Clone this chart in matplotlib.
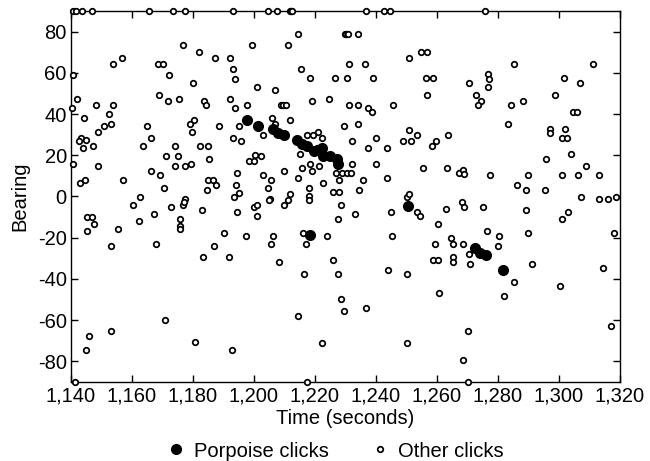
import matplotlib
matplotlib.use("Agg")
import matplotlib.pyplot as plt
import numpy as np
from matplotlib.ticker import FuncFormatter

plt.rcParams['font.family'] = ['Liberation Sans', 'DejaVu Sans']
plt.rcParams['axes.unicode_minus'] = False

# Porpoise clicks (time s, bearing deg)
porp_t = [1197.6, 1201.4, 1206.1, 1208.0, 1209.8, 1214.0, 1215.6, 1217.3, 1219.8,
          1222.2, 1222.7, 1224.9, 1227.1, 1227.7, 1218.4, 1250.6, 1272.5, 1274.1,
          1276.1, 1281.5]
porp_b = [37.2, 34.3, 32.7, 31.0, 29.8, 27.3, 25.4, 24.5, 22.0,
          23.7, 19.7, 19.7, 18.3, 15.6, -18.7, -4.7, -25.1, -27.2,
          -28.3, -35.6]

# Other clicks
other_pts = [
    # top edge
    (1140.8, 90), (1141.6, 90), (1143.5, 90), (1146.9, 90), (1165.6, 90), (1173.5, 90),
    (1177.4, 90), (1193.0, 90), (1204.7, 90), (1207.4, 90), (1211.9, 90), (1212.2, 90),
    (1212.6, 90), (1236.7, 90), (1242.7, 90), (1244.6, 90), (1275.7, 90),
    # bottom edge
    (1141.3, -90), (1217.3, -90), (1270.1, -90),
    # upper left
    (1199.2, 73.7), (1176.6, 73.7), (1182.1, 70.1), (1156.7, 67.2), (1153.9, 64.4),
    (1187.1, 67.2), (1192.3, 67.2), (1168.6, 64.4), (1170.3, 64.4), (1193.0, 62.0),
    (1140.8, 59.0), (1172.2, 59.0), (1193.8, 57.1), (1180.1, 55.1), (1200.9, 53.2),
    (1168.9, 49.1), (1141.9, 47.2), (1171.9, 46.3), (1175.4, 47.5), (1183.6, 46.3),
    (1184.3, 44.2), (1192.3, 47.5), (1148.1, 44.4), (1153.9, 44.4), (1197.8, 44.4),
    (1140.4, 42.8), (1193.8, 42.8), (1152.5, 39.8), (1144.2, 38.0), (1180.4, 37.2),
    (1179.0, 35.1), (1179.8, 31.1), (1150.9, 34.0), (1153.2, 35.1), (1149.0, 31.1),
    (1164.9, 34.0), (1188.6, 34.0), (1195.1, 34.0), (1166.4, 28.6), (1193.2, 28.6),
    (1195.7, 27.0), (1143.4, 28.6), (1142.6, 26.7), (1144.9, 27.3), (1143.8, 23.7),
    (1147.3, 24.7), (1163.7, 24.7), (1174.0, 24.7), (1182.3, 24.7), (1184.8, 24.7),
    (1171.1, 19.5), (1175.1, 19.5), (1185.2, 18.4), (1200.4, 20.0), (1198.5, 17.1),
    (1200.0, 17.1), (1140.5, 15.9), (1149.0, 14.8), (1174.2, 14.8), (1177.4, 14.8),
    (1179.5, 15.9), (1166.1, 12.4), (1169.2, 10.2), (1194.3, 11.2), (1142.8, 6.7),
    (1144.6, 7.8), (1156.9, 7.8), (1170.4, 4.2), (1184.9, 7.8), (1186.7, 7.8),
    (1187.4, 5.5), (1184.7, 3.1), (1194.1, 5.5), (1195.1, 1.8), (1193.4, -0.2),
    (1162.6, -0.3), (1177.4, -1.1),
    # upper middle
    (1214.5, 78.9), (1211.0, 73.7), (1229.7, 78.7), (1230.2, 78.7), (1230.7, 78.7),
    (1234.0, 78.9), (1250.9, 67.2), (1254.6, 70.1), (1256.6, 70.1), (1231.3, 64.4),
    (1236.4, 64.4), (1215.3, 62.0), (1218.4, 57.4), (1226.6, 57.4), (1230.6, 57.4),
    (1239.1, 57.4), (1256.3, 57.4), (1258.6, 57.4), (1206.9, 51.5), (1256.7, 49.3),
    (1224.7, 47.5), (1219.1, 46.3), (1208.8, 44.2), (1209.6, 44.2), (1210.4, 44.2),
    (1231.3, 44.4), (1234.0, 44.4), (1237.5, 42.9), (1238.8, 41.0), (1245.5, 44.4),
    (1206.0, 38.0), (1211.8, 37.1), (1206.9, 35.1), (1202.8, 29.9), (1229.4, 34.0),
    (1234.0, 35.1), (1250.9, 32.4), (1253.6, 29.9), (1263.7, 29.9), (1217.5, 29.6),
    (1219.5, 29.9), (1221.1, 31.1), (1222.2, 28.6), (1232.0, 27.0), (1239.9, 28.6),
    (1249.0, 27.0), (1251.4, 27.0), (1259.7, 27.0), (1258.3, 24.7), (1237.5, 23.6),
    (1243.5, 23.6), (1220.5, 23.7), (1202.2, 19.5), (1215.1, 20.5), (1218.4, 15.6),
    (1218.9, 12.4), (1215.6, 14.0), (1221.4, 15.0), (1232.0, 15.9), (1239.9, 15.9),
    (1255.5, 13.7), (1263.2, 13.7), (1209.8, 12.4), (1203.1, 10.2), (1205.6, 7.8),
    (1214.5, 8.9), (1226.9, 11.2), (1228.7, 11.2), (1230.4, 11.2), (1231.7, 11.2),
    (1228.0, 7.8), (1222.7, 6.7), (1235.8, 7.8), (1243.7, 8.9), (1204.5, 4.2),
    (1218.1, 4.2), (1226.0, 2.1), (1228.0, 2.1), (1234.3, 3.1), (1211.8, 1.0),
    (1218.1, 0.2), (1205.2, -1.0), (1211.3, -1.5), (1250.1, -0.3), (1250.9, 1.0),
    # upper right
    (1285.2, 64.4), (1311.0, 64.4), (1276.6, 59.5), (1277.0, 57.1), (1276.8, 53.2),
    (1270.4, 55.1), (1301.6, 57.4), (1306.9, 55.1), (1272.7, 49.1), (1274.3, 46.3),
    (1273.5, 44.4), (1284.2, 44.4), (1288.3, 46.3), (1298.6, 49.1), (1304.7, 41.0),
    (1306.0, 41.0), (1283.3, 35.1), (1297.0, 32.5), (1297.0, 30.9), (1302.0, 32.5),
    (1300.9, 28.6), (1302.6, 28.6), (1303.9, 20.7), (1295.8, 18.4), (1308.7, 14.6),
    (1267.2, 11.2), (1268.6, 12.7), (1268.8, 10.7), (1277.4, 10.2), (1289.9, 10.2),
    (1300.9, 10.2), (1306.3, 10.2), (1313.1, 10.2), (1286.1, 5.5), (1289.2, 3.1),
    (1295.5, 3.1), (1307.1, -0.3), (1313.2, -1.1), (1316.2, -1.1), (1318.6, -0.2),
    # lower left
    (1160.2, -3.9), (1162.2, -12.1), (1167.3, -8.5), (1172.7, -5.1), (1175.7, -10.8),
    (1175.7, -14.5), (1175.7, -15.6), (1176.8, -4.2), (1177.0, -2.8), (1182.8, -6.4),
    (1194.5, -7.5), (1190.3, -17.9), (1197.4, -19.0), (1186.9, -24.2), (1183.2, -29.5),
    (1191.9, -29.5), (1168.0, -22.9), (1155.5, -15.6), (1153.2, -24.2), (1145.4, -9.8),
    (1147.0, -9.8), (1147.7, -13.2), (1145.4, -16.8), (1170.8, -59.7), (1153.2, -65.1),
    (1145.8, -67.8), (1145.0, -74.3), (1180.5, -70.7), (1192.7, -74.3),
    # lower middle
    (1200.0, -5.1), (1200.9, -3.9), (1201.1, -9.6), (1205.0, -1.5), (1209.8, -3.9),
    (1218.1, -1.5), (1228.6, -3.9), (1227.4, -10.9), (1233.2, -8.5), (1244.9, -7.5),
    (1253.6, -7.5), (1254.4, -9.6), (1263.0, -6.0), (1260.2, -13.2), (1216.0, -17.9),
    (1217.1, -23.1), (1206.3, -19.0), (1205.6, -23.1), (1223.8, -19.0), (1245.4, -19.0),
    (1259.5, -23.1), (1208.2, -31.7), (1225.8, -30.8), (1258.6, -30.8), (1260.4, -30.8),
    (1216.4, -37.6), (1227.6, -37.6), (1244.0, -35.9), (1250.1, -37.6), (1260.7, -46.8),
    (1228.5, -49.9), (1229.4, -55.6), (1236.7, -54.0), (1214.5, -58.1), (1222.3, -70.9),
    (1250.1, -70.9),
    # lower right
    (1268.1, -2.8), (1268.8, -5.1), (1275.1, -5.1), (1289.2, -6.4), (1301.0, -10.8),
    (1302.8, -7.5), (1276.3, -16.8), (1290.0, -17.9), (1318.0, -17.9), (1264.7, -20.2),
    (1265.4, -23.1), (1268.4, -23.1), (1280.4, -19.0), (1280.1, -24.2), (1265.4, -29.5),
    (1265.4, -31.9), (1270.6, -27.8), (1270.8, -33.0), (1291.0, -33.0), (1314.5, -34.8),
    (1285.2, -41.6), (1300.5, -43.6), (1282.1, -48.3), (1270.1, -65.1), (1317.2, -62.8),
    (1268.4, -79.5),
]
other_t = [p[0] for p in other_pts]
other_b = [p[1] for p in other_pts]

x_ticks = list(range(1140, 1321, 20))
y_ticks = list(range(-80, 81, 20))

fig = plt.figure(figsize=(6.5, 4.61), dpi=100)
ax = fig.add_axes([0.1092, 0.1714, 0.8446, 0.8048])

ax.plot(other_t, other_b, linestyle='none', marker='o', ms=4.0, mew=1.25,
        mfc='white', mec='black', clip_on=False, zorder=3, label='Other clicks')
ax.plot(porp_t, porp_b, linestyle='none', marker='o', ms=8.0, mew=0,
        mfc='black', clip_on=False, zorder=4, label='Porpoise clicks')

ax.set_xlim(1140, 1320)
ax.set_ylim(-90, 90)
ax.set_xticks(x_ticks)
ax.set_yticks(y_ticks)
ax.xaxis.set_major_formatter(FuncFormatter(lambda v, p: f"{int(round(v)):,}"))
ax.tick_params(direction='in', top=True, right=True, length=5, width=1,
               labelsize=14.5, pad=3)
for s in ax.spines.values():
    s.set_linewidth(1.0)

ax.set_xlabel('Time (seconds)', fontsize=14.5, labelpad=3)
ax.set_ylabel('Bearing', fontsize=14.5, labelpad=6)

h, l = ax.get_legend_handles_labels()
fig.legend([h[1], h[0]], [l[1], l[0]], loc='center', ncol=2,
           bbox_to_anchor=(0.515, 1 - 451 / 461), frameon=False, fontsize=14.5,
           handletextpad=0.4, columnspacing=2.0, handlelength=1.0, borderpad=0)

fig.savefig('out.png', dpi=100)
